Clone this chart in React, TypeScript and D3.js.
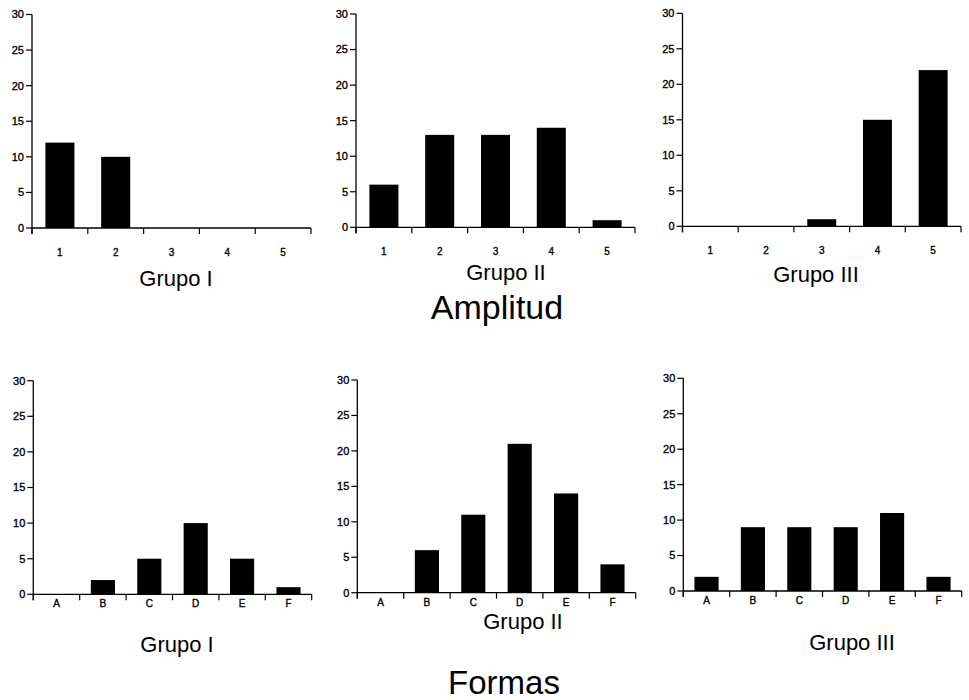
import React from "react";
import * as d3 from "d3";

const amplitudCategories = ["1", "2", "3", "4", "5"];
const amplitudGrupoI = [12, 10, 0, 0, 0];
const amplitudGrupoII = [6, 13, 13, 14, 1];
const amplitudGrupoIII = [0, 0, 1, 15, 22];

const formasCategories = ["A", "B", "C", "D", "E", "F"];
const formasGrupoI = [0, 2, 5, 10, 5, 1];
const formasGrupoII = [0, 6, 11, 21, 14, 4];
const formasGrupoIII = [2, 9, 9, 9, 11, 2];

const yTicks = [0, 5, 10, 15, 20, 25, 30];
const groupTitles = ["Grupo I", "Grupo II", "Grupo III"];
const sectionTitles = ["Amplitud", "Formas"];

const FONT = "'Liberation Sans', Arial, Helvetica, sans-serif";

type PanelProps = {
  categories: string[];
  values: number[];
  x0: number;
  x1: number;
  yTop: number;
  yBottom: number;
  labelOffset: number;
  title: string;
  titleX: number;
  titleY: number;
};

function Panel({ categories, values, x0, x1, yTop, yBottom, labelOffset, title, titleX, titleY }: PanelProps) {
  const x = d3.scaleBand<string>().domain(categories).range([x0, x1]).padding(0);
  const y = d3.scaleLinear().domain([0, 30]).range([yBottom, yTop]);
  const bw = x.bandwidth() * 0.52;
  const tickLen = 6;
  const boundaries = [x0, ...categories.map((c) => (x(c) as number) + x.bandwidth())];
  return (
    <g>
      {values.map((v, i) => {
        const c = categories[i];
        const cx = (x(c) as number) + x.bandwidth() / 2;
        return (
          <rect
            key={c}
            x={cx - bw / 2}
            y={y(v)}
            width={bw}
            height={Math.max(0, y(0) - y(v))}
            fill="#000"
          />
        );
      })}
      {/* y axis */}
      <line x1={x0} x2={x0} y1={y(30)} y2={y(0) + tickLen} stroke="#000" strokeWidth={1.3} />
      {yTicks.map((t) => (
        <g key={t}>
          <line x1={x0 - tickLen} x2={x0} y1={y(t)} y2={y(t)} stroke="#000" strokeWidth={1.2} />
          <text
            x={x0 - 8}
            y={y(t)}
            dy="0.35em"
            textAnchor="end"
            fontSize={11}
            fontFamily={FONT}
            fill="#000"
            stroke="#000"
            strokeWidth={0.35}
          >
            {t}
          </text>
        </g>
      ))}
      {/* x axis */}
      <line x1={x0} x2={x1} y1={y(0)} y2={y(0)} stroke="#000" strokeWidth={1.3} />
      {boundaries.map((b, i) => (
        <line key={i} x1={b} x2={b} y1={y(0)} y2={y(0) + tickLen} stroke="#000" strokeWidth={1.2} />
      ))}
      {categories.map((c) => (
        <text
          key={c}
          x={(x(c) as number) + x.bandwidth() / 2}
          y={y(0) + labelOffset}
          textAnchor="middle"
          fontSize={10}
          fontFamily={FONT}
          fill="#000"
          stroke="#000"
          strokeWidth={0.35}
        >
          {c}
        </text>
      ))}
      <text x={titleX} y={titleY} textAnchor="middle" fontSize={22} fontFamily={FONT} fill="#000">
        {title}
      </text>
    </g>
  );
}

export default function App() {
  const top = [
    { values: amplitudGrupoI, x0: 32, x1: 311, yTop: 14.5, yBottom: 228, titleX: 176, titleY: 286 },
    { values: amplitudGrupoII, x0: 356, x1: 635, yTop: 14, yBottom: 227.3, titleX: 506, titleY: 280 },
    { values: amplitudGrupoIII, x0: 682.5, x1: 961, yTop: 13.3, yBottom: 226.3, titleX: 816, titleY: 282 },
  ];
  const bottom = [
    { values: formasGrupoI, x0: 33.3, x1: 311.7, yTop: 380.7, yBottom: 594.3, titleX: 177, titleY: 652 },
    { values: formasGrupoII, x0: 357.3, x1: 635.7, yTop: 380, yBottom: 592.7, titleX: 523, titleY: 629 },
    { values: formasGrupoIII, x0: 683.3, x1: 961.7, yTop: 378.3, yBottom: 591, titleX: 852, titleY: 650 },
  ];
  return (
    <svg
      width={969}
      height={700}
      style={{ position: "absolute", left: 0, top: 0, background: "#fff" }}
    >
      <rect x={0} y={0} width={969} height={700} fill="#fff" />
      {top.map((p, i) => (
        <Panel
          key={"a" + i}
          categories={amplitudCategories}
          values={p.values}
          x0={p.x0}
          x1={p.x1}
          yTop={p.yTop}
          yBottom={p.yBottom}
          labelOffset={28}
          title={groupTitles[i]}
          titleX={p.titleX}
          titleY={p.titleY}
        />
      ))}
      {bottom.map((p, i) => (
        <Panel
          key={"f" + i}
          categories={formasCategories}
          values={p.values}
          x0={p.x0}
          x1={p.x1}
          yTop={p.yTop}
          yBottom={p.yBottom}
          labelOffset={13}
          title={groupTitles[i]}
          titleX={p.titleX}
          titleY={p.titleY}
        />
      ))}
      <text x={497} y={319} textAnchor="middle" fontSize={34} fontFamily={FONT} fill="#000">
        {sectionTitles[0]}
      </text>
      <text x={504} y={694} textAnchor="middle" fontSize={33} fontFamily={FONT} fill="#000">
        {sectionTitles[1]}
      </text>
    </svg>
  );
}
